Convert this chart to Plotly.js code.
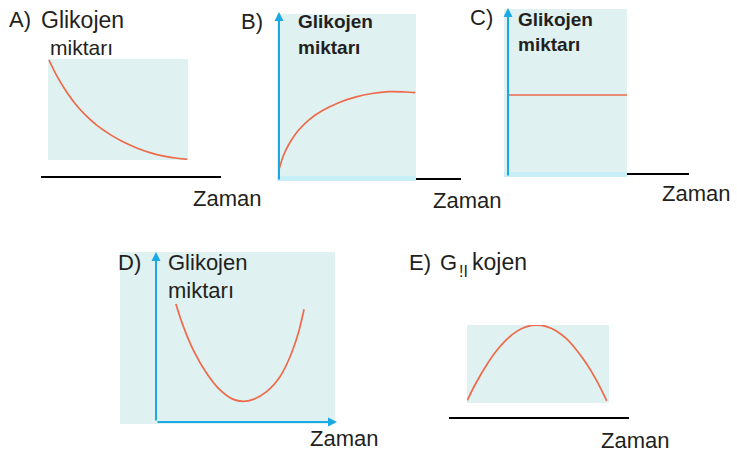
<!DOCTYPE html>
<html><head><meta charset="utf-8">
<script src="https://cdn.plot.ly/plotly-3.0.1.min.js"></script>
<style>html,body{margin:0;padding:0;background:#fff}#c{width:737px;height:452px}</style>
</head><body><div id="c"></div>
<script>
// Data (each panel on a 0–10 scale in both directions)
const panelLabels = ["A)", "B)", "C)", "D)", "E)"];
const yTitleLine1 = "Glikojen";
const yTitleLine2 = "miktarı";
const xTitle = "Zaman";

const aTime = [0.07, 0.66, 1.38, 2.09, 2.81, 3.52, 4.48, 5.43, 6.38, 7.34, 8.29, 9.24, 9.95];
const aGlycogen = [9.90, 8.25, 6.63, 5.32, 4.26, 3.40, 2.49, 1.75, 1.17, 0.71, 0.39, 0.17, 0.07];

const bTime = [0.17, 0.48, 0.96, 1.56, 2.28, 3.24, 4.44, 5.63, 6.83, 8.04, 9.23, 9.95];
const bGlycogen = [0.76, 1.56, 2.35, 3.05, 3.65, 4.21, 4.69, 5.02, 5.24, 5.35, 5.33, 5.29];

const cTime = [0.33, 10];
const cGlycogen = [4.88, 4.88];

const dTime = [2.60, 2.95, 3.41, 4.03, 4.65, 5.27, 5.74, 6.20, 6.82, 7.44, 7.91, 8.29, 8.56];
const dGlycogen = [6.98, 5.66, 4.30, 2.95, 1.98, 1.43, 1.32, 1.43, 1.88, 2.75, 3.91, 5.27, 6.67];

const eTime = [0.02, 0.68, 1.39, 2.09, 2.80, 3.50, 4.20, 4.91, 5.61, 6.32, 7.02, 7.72, 8.43, 9.13, 9.84];
const eGlycogen = [0.35, 2.72, 4.90, 6.72, 8.15, 9.18, 9.79, 9.97, 9.79, 9.21, 8.21, 6.77, 5.00, 2.87, 0.28];

const W = 737, H = 452;
const px = v => v / W;
const py = v => 1 - v / H;

const BG = '#dff1f1', STRIP = '#c8eef7', BLUE = '#1ba9e6', CURVE = '#ee6a4a', INK = '#231f20';
const FONT = 'Liberation Sans, Arial, sans-serif';

// plot boxes in pixels [x0,x1,y0(top),y1(bottom)]
const boxes = [
  [48, 188, 59, 160],
  [277, 416, 14, 181],
  [504, 627, 9, 177],
  [120, 335, 252, 424],
  [467, 609, 325, 403]
];
const series = [[aTime, aGlycogen], [bTime, bGlycogen], [cTime, cGlycogen], [dTime, dGlycogen], [eTime, eGlycogen]];

const traces = [];
const layout = {
  width: W, height: H, margin: {l: 0, r: 0, t: 0, b: 0},
  paper_bgcolor: '#fff', plot_bgcolor: BG, showlegend: false,
  font: {family: FONT, color: INK},
  shapes: [], annotations: []
};
series.forEach((s, i) => {
  const n = i === 0 ? '' : String(i + 1);
  const b = boxes[i];
  traces.push({x: s[0], y: s[1], type: 'scatter', mode: 'lines',
    line: {color: CURVE, width: 1.7, shape: 'spline', smoothing: 1},
    xaxis: 'x' + n, yaxis: 'y' + n, hoverinfo: 'skip', cliponaxis: false});
  layout['xaxis' + n] = {domain: [px(b[0]), px(b[1])], range: [0, 10], visible: false, fixedrange: true, anchor: 'y' + n};
  layout['yaxis' + n] = {domain: [py(b[3]), py(b[2])], range: [0, 10], visible: false, fixedrange: true, anchor: 'x' + n};
});

function hline(x0, x1, y, color, w) {
  layout.shapes.push({type: 'line', xref: 'paper', yref: 'paper', x0: px(x0), x1: px(x1), y0: py(y), y1: py(y), line: {color: color, width: w}});
}
function rect(x0, x1, y0, y1, color) {
  layout.shapes.push({type: 'rect', xref: 'paper', yref: 'paper', x0: px(x0), x1: px(x1), y0: py(y1), y1: py(y0), fillcolor: color, line: {width: 0}, layer: 'above'});
}
function arrow(xh, yh, xt, yt) {
  layout.annotations.push({xref: 'paper', yref: 'paper', x: px(xh), y: py(yh), ax: xt - xh, ay: yt - yh,
    axref: 'pixel', ayref: 'pixel', text: '', showarrow: true, arrowhead: 2, arrowsize: 0.9, arrowwidth: 2, arrowcolor: BLUE});
}
function label(t, x, y, size, bold) {
  layout.annotations.push({xref: 'paper', yref: 'paper', x: px(x), y: py(y), xanchor: 'left', yanchor: 'middle',
    text: bold ? '<b>' + t + '</b>' : t, showarrow: false, font: {size: size, color: INK, family: FONT}});
}

// baselines
hline(41, 221, 177, '#000', 2);
hline(416, 461, 179, '#000', 2);
hline(627, 689, 174, '#000', 2);
hline(449, 629, 418, '#000', 2);
// light strips at the foot of B and C
rect(277, 416, 176, 181, STRIP);
rect(504, 627, 172, 177, STRIP);
// blue axes with arrows
arrow(279, 12, 279, 181);
arrow(508, 8, 508, 177);
arrow(156, 252, 156, 422);
arrow(337, 422, 156, 422);

// texts
label(panelLabels[0], 7, 20, 22);
label(yTitleLine1, 39, 20, 23);
label(yTitleLine2, 48, 48, 21);
label(xTitle, 191, 198, 22);

label(panelLabels[1], 239, 22, 22);
label(yTitleLine1, 296, 22, 19, true);
label(yTitleLine2, 296, 48, 19, true);
label(xTitle, 431, 200, 22);

label(panelLabels[2], 468, 18, 22);
label(yTitleLine1, 516, 19, 19, true);
label(yTitleLine2, 516, 45, 19, true);
label(xTitle, 660, 193, 22);

label(panelLabels[3], 116, 262, 22);
label(yTitleLine1, 166, 262, 22);
label(yTitleLine2, 166, 290, 22);
label(xTitle, 308, 438, 22);

label(panelLabels[4], 407, 262, 22);
label('G', 438, 262, 22);
label('!I', 457, 271, 16);
label('kojen', 470, 262, 23);
label(xTitle, 599, 440, 22);

Plotly.newPlot('c', traces, layout, {displayModeBar: false, staticPlot: true});
</script></body></html>
